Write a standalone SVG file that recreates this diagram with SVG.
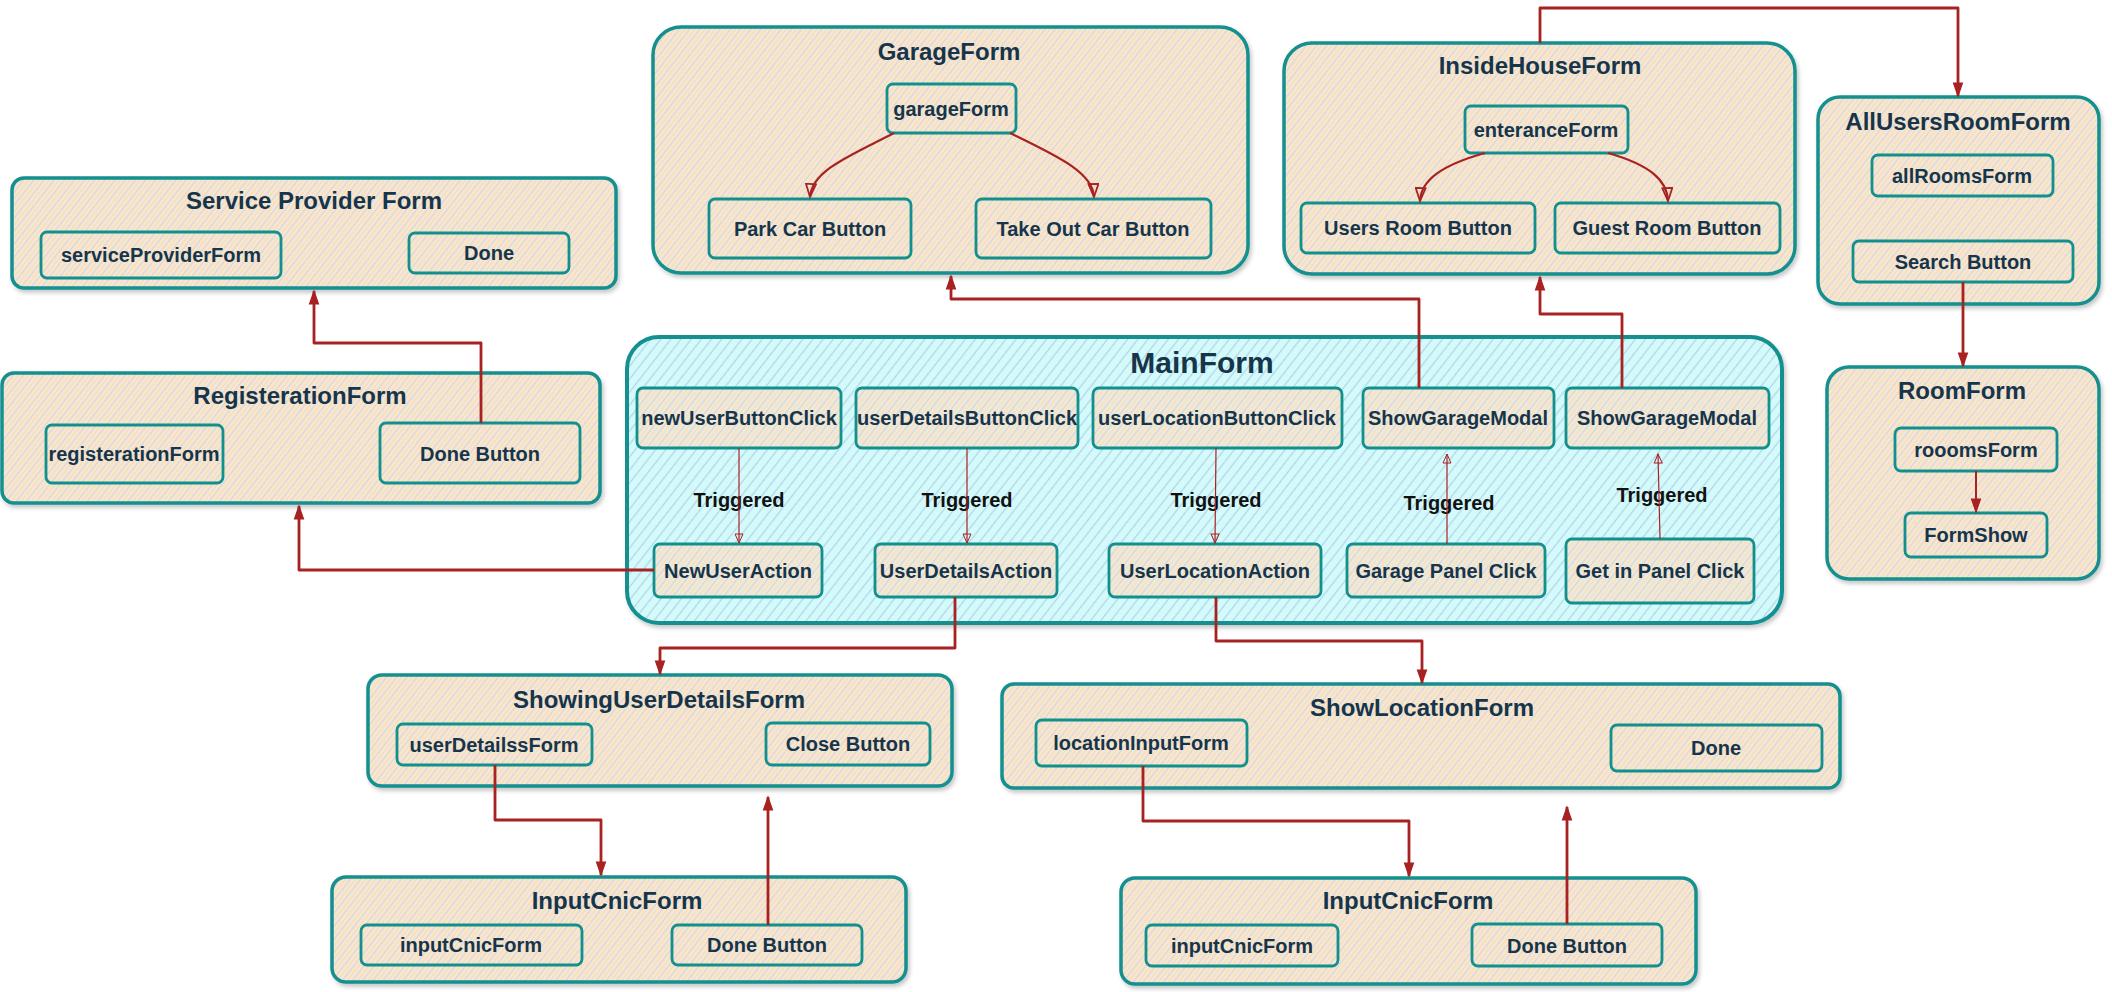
<svg xmlns="http://www.w3.org/2000/svg" width="2112" height="992" viewBox="0 0 2112 992">
<defs>
<pattern id="hb" width="8" height="8" patternUnits="userSpaceOnUse" patternTransform="rotate(38)">
<rect width="8" height="8" fill="#F8E6CD"/>
<line x1="1.5" y1="0" x2="1.5" y2="8" stroke="#D4D6E6" stroke-width="1.2"/>
<line x1="5.5" y1="0" x2="5.5" y2="8" stroke="#F1DBBF" stroke-width="1"/>
</pattern>
<pattern id="hc" width="8" height="8" patternUnits="userSpaceOnUse" patternTransform="rotate(38)">
<rect width="8" height="8" fill="#CDFDFE"/>
<line x1="1.5" y1="0" x2="1.5" y2="8" stroke="#C2CCE2" stroke-width="1.2"/>
<line x1="5.5" y1="0" x2="5.5" y2="8" stroke="#E6F3EE" stroke-width="1"/>
</pattern>
<filter id="sh" x="-5%" y="-5%" width="110%" height="120%">
<feDropShadow dx="2" dy="3" stdDeviation="2" flood-color="#000" flood-opacity="0.22"/>
</filter>
<marker id="ah" markerUnits="userSpaceOnUse" markerWidth="16" markerHeight="12" refX="14" refY="6" orient="auto">
<path d="M1,1.5 L14,6 L1,10.5 Z" fill="#A82222" stroke="#A82222" stroke-width="1.2"/>
</marker>
<marker id="ao" markerUnits="userSpaceOnUse" markerWidth="16" markerHeight="12" refX="14" refY="6" orient="auto">
<path d="M1,1 L14,6 L1,11 Z" fill="none" stroke="#A82222" stroke-width="1.8"/>
</marker>
<marker id="at" markerUnits="userSpaceOnUse" markerWidth="12" markerHeight="10" refX="10" refY="5" orient="auto">
<path d="M1,1 L10,5 L1,9 Z" fill="none" stroke="#A82222" stroke-width="1"/>
</marker>
</defs>
<style>
.c{fill:url(#hb);stroke:#12908E;stroke-width:3.5;filter:url(#sh)}
.m{fill:url(#hc);stroke:#12908E;stroke-width:4;filter:url(#sh)}
.b{fill:url(#hb);stroke:#12908E;stroke-width:2.8}
.bm{fill:url(#hb);stroke:#12908E;stroke-width:2.8;fill-opacity:0.85}
text{font-family:"Liberation Sans",Arial,Helvetica,sans-serif;font-weight:bold;text-anchor:middle;fill:#17354A}
.t{font-size:24px}
.tm{font-size:30px}
.s{font-size:20px}
.tr{font-size:20px;fill:#111}
.k{fill:none;stroke:#A82222;stroke-width:2.8;stroke-linejoin:round}
.kt{fill:none;stroke:#A82222;stroke-width:1.2}
</style>

<g id="n-serviceprovider">
<rect class="c" x="12" y="178" width="604" height="110" rx="12"/>
<text class="t" x="314" y="209">Service Provider Form</text>
<rect class="b" x="41" y="232" width="240" height="46" rx="6"/>
<text class="s" x="161" y="262">serviceProviderForm</text>
<rect class="b" x="409" y="233" width="160" height="40" rx="6"/>
<text class="s" x="489" y="260">Done</text>
</g>

<g id="n-registeration">
<rect class="c" x="2" y="373" width="598" height="130" rx="12"/>
<text class="t" x="300" y="404">RegisterationForm</text>
<rect class="b" x="46" y="425" width="177" height="58" rx="6"/>
<text class="s" x="134" y="461">registerationForm</text>
<rect class="b" x="380" y="423" width="200" height="60" rx="6"/>
<text class="s" x="480" y="461">Done Button</text>
</g>

<g id="n-garage">
<rect class="c" x="653" y="27" width="595" height="246" rx="28"/>
<text class="t" x="949" y="60">GarageForm</text>
<rect class="b" x="887" y="84" width="129" height="49" rx="6"/>
<text class="s" x="951" y="116">garageForm</text>
<rect class="b" x="709" y="199" width="202" height="59" rx="6"/>
<text class="s" x="810" y="236">Park Car Button</text>
<rect class="b" x="976" y="199" width="235" height="59" rx="6"/>
<text class="s" x="1093" y="236">Take Out Car Button</text>
</g>

<g id="n-insidehouse">
<rect class="c" x="1284" y="43" width="511" height="231" rx="28"/>
<text class="t" x="1540" y="74">InsideHouseForm</text>
<rect class="b" x="1465" y="106" width="163" height="47" rx="6"/>
<text class="s" x="1546" y="137">enteranceForm</text>
<rect class="b" x="1301" y="203" width="234" height="50" rx="6"/>
<text class="s" x="1418" y="235">Users Room Button</text>
<rect class="b" x="1555" y="203" width="225" height="50" rx="6"/>
<text class="s" x="1667" y="235">Guest Room Button</text>
</g>

<g id="n-allusersroom">
<rect class="c" x="1818" y="97" width="281" height="207" rx="22"/>
<text class="t" x="1958" y="130">AllUsersRoomForm</text>
<rect class="b" x="1872" y="155" width="181" height="41" rx="6"/>
<text class="s" x="1962" y="183">allRoomsForm</text>
<rect class="b" x="1853" y="241" width="220" height="41" rx="6"/>
<text class="s" x="1963" y="269">Search Button</text>
</g>

<g id="n-room">
<rect class="c" x="1827" y="367" width="272" height="212" rx="22"/>
<text class="t" x="1962" y="399">RoomForm</text>
<rect class="b" x="1895" y="428" width="162" height="43" rx="6"/>
<text class="s" x="1976" y="457">rooomsForm</text>
<rect class="b" x="1905" y="513" width="142" height="44" rx="6"/>
<text class="s" x="1976" y="542">FormShow</text>
</g>

<g id="n-main">
<rect class="m" x="627" y="337" width="1155" height="286" rx="32"/>
<text class="tm" x="1202" y="373">MainForm</text>
<rect class="bm" x="637" y="388" width="204" height="60" rx="6"/>
<text class="s" x="739" y="425">newUserButtonClick</text>
<rect class="bm" x="856" y="388" width="222" height="60" rx="6"/>
<text class="s" x="967" y="425">userDetailsButtonClick</text>
<rect class="bm" x="1093" y="388" width="249" height="60" rx="6"/>
<text class="s" x="1217" y="425">userLocationButtonClick</text>
<rect class="bm" x="1363" y="388" width="191" height="60" rx="6"/>
<text class="s" x="1458" y="425">ShowGarageModal</text>
<rect class="bm" x="1566" y="388" width="203" height="60" rx="6"/>
<text class="s" x="1667" y="425">ShowGarageModal</text>
<rect class="bm" x="654" y="544" width="168" height="53" rx="6"/>
<text class="s" x="738" y="578">NewUserAction</text>
<rect class="bm" x="875" y="544" width="182" height="53" rx="6"/>
<text class="s" x="966" y="578">UserDetailsAction</text>
<rect class="bm" x="1109" y="544" width="212" height="53" rx="6"/>
<text class="s" x="1215" y="578">UserLocationAction</text>
<rect class="bm" x="1347" y="544" width="198" height="53" rx="6"/>
<text class="s" x="1446" y="578">Garage Panel Click</text>
<rect class="bm" x="1566" y="539" width="188" height="64" rx="6"/>
<text class="s" x="1660" y="578">Get in Panel Click</text>
<text class="tr" x="739" y="507">Triggered</text>
<text class="tr" x="967" y="507">Triggered</text>
<text class="tr" x="1216" y="507">Triggered</text>
<text class="tr" x="1449" y="510">Triggered</text>
<text class="tr" x="1662" y="502">Triggered</text>
</g>

<g id="n-showinguserdetails">
<rect class="c" x="368" y="675" width="584" height="111" rx="14"/>
<text class="t" x="659" y="708">ShowingUserDetailsForm</text>
<rect class="b" x="397" y="724" width="195" height="41" rx="6"/>
<text class="s" x="494" y="752">userDetailssForm</text>
<rect class="b" x="766" y="723" width="164" height="42" rx="6"/>
<text class="s" x="848" y="751">Close Button</text>
</g>

<g id="n-showlocation">
<rect class="c" x="1002" y="684" width="838" height="104" rx="12"/>
<text class="t" x="1422" y="716">ShowLocationForm</text>
<rect class="b" x="1036" y="720" width="211" height="46" rx="6"/>
<text class="s" x="1141" y="750">locationInputForm</text>
<rect class="b" x="1611" y="725" width="211" height="46" rx="6"/>
<text class="s" x="1716" y="755">Done</text>
</g>

<g id="n-inputcnic-left">
<rect class="c" x="332" y="877" width="574" height="105" rx="14"/>
<text class="t" x="617" y="909">InputCnicForm</text>
<rect class="b" x="361" y="925" width="221" height="40" rx="6"/>
<text class="s" x="471" y="952">inputCnicForm</text>
<rect class="b" x="672" y="925" width="190" height="40" rx="6"/>
<text class="s" x="767" y="952">Done Button</text>
</g>

<g id="n-inputcnic-right">
<rect class="c" x="1121" y="878" width="575" height="106" rx="14"/>
<text class="t" x="1408" y="909">InputCnicForm</text>
<rect class="b" x="1146" y="925" width="192" height="41" rx="6"/>
<text class="s" x="1242" y="953">inputCnicForm</text>
<rect class="b" x="1472" y="924" width="190" height="42" rx="6"/>
<text class="s" x="1567" y="953">Done Button</text>
</g>

<g id="connectors">
<path class="k" d="M481,423 V343 H314 V291" marker-end="url(#ah)"/>
<path class="k" d="M654,570 H299 V506" marker-end="url(#ah)"/>
<path class="k" d="M955,597 V648 H660 V674" marker-end="url(#ah)"/>
<path class="k" d="M1216,597 V641 H1422 V683" marker-end="url(#ah)"/>
<path class="k" d="M1419,388 V299 H951 V276" marker-end="url(#ah)"/>
<path class="k" d="M1622,388 V314 H1540 V277" marker-end="url(#ah)"/>
<path class="k" d="M1540,43 V8 H1958 V96" marker-end="url(#ah)"/>
<path class="k" d="M1963,282 V366" marker-end="url(#ah)"/>
<path class="k" style="stroke-width:2" d="M1976,471 V512" marker-end="url(#ah)"/>
<path class="k" style="stroke-width:2.2" d="M894,133 C852,155 812,170 810,197" marker-end="url(#ao)"/>
<path class="k" style="stroke-width:2.2" d="M1010,133 C1055,155 1093,172 1094,197" marker-end="url(#ao)"/>
<path class="k" style="stroke-width:2.2" d="M1485,153 C1442,165 1421,180 1420,201" marker-end="url(#ao)"/>
<path class="k" style="stroke-width:2.2" d="M1608,153 C1650,165 1667,180 1668,201" marker-end="url(#ao)"/>
<path class="k" d="M495,765 V820 H601 V875" marker-end="url(#ah)"/>
<path class="k" d="M768,925 V797" marker-end="url(#ah)"/>
<path class="k" d="M1143,766 V821 H1409 V876" marker-end="url(#ah)"/>
<path class="k" d="M1567,924 V807" marker-end="url(#ah)"/>
<path class="kt" d="M739,448 V543" marker-end="url(#at)"/>
<path class="kt" d="M967,448 V543" marker-end="url(#at)"/>
<path class="kt" d="M1216,448 L1215,543" marker-end="url(#at)"/>
<path class="kt" d="M1447,544 V454" marker-end="url(#at)"/>
<path class="kt" d="M1660,539 L1658,454" marker-end="url(#at)"/>
</g>
</svg>
